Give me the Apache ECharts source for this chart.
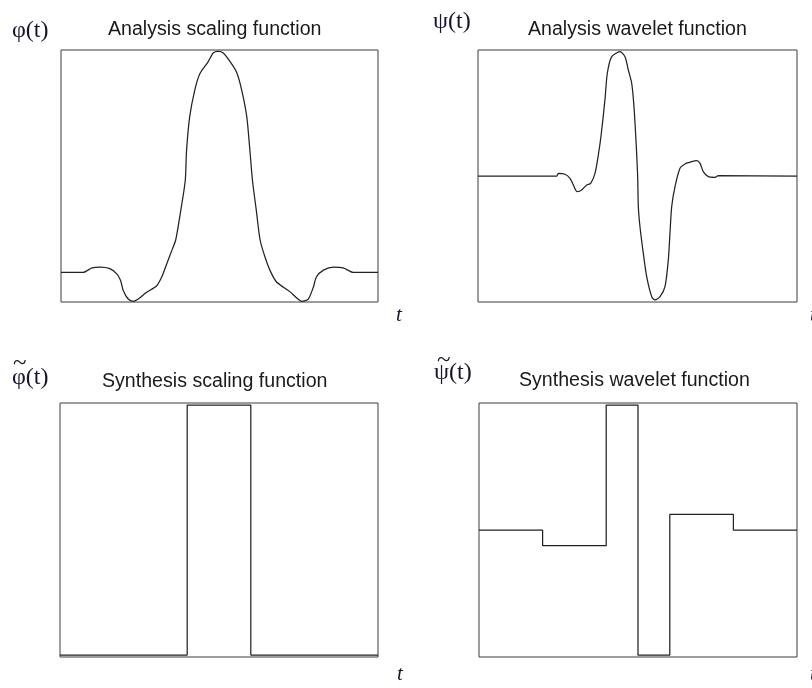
<!DOCTYPE html>
<html>
<head>
<meta charset="utf-8">
<script src="https://cdn.jsdelivr.net/npm/echarts@6/dist/echarts.min.js"></script>
<style>
html,body{margin:0;padding:0;background:#fff;}
#chart{width:812px;height:688px;}
</style>
</head>
<body>
<div id="chart"></div>
<script>
// Analysis scaling function phi(t)
const phiT = [0,0.35,0.49,0.62,0.77,0.88,0.94,0.98,1.06,1.14,1.22,1.35,1.51,1.59,1.67,1.75,1.81,1.89,1.96,1.98,2.03,2.11,2.19,2.32,2.40,2.48,2.56,2.67,2.77,2.85,2.93,2.98,3.02,3.08,3.14,3.22,3.30,3.40,3.61,3.80,3.90,3.98,4.03,4.14,4.30,4.45,4.61,5];
const phiV = [0,0,0.03,0.035,0.025,-0.01,-0.055,-0.12,-0.18,-0.195,-0.18,-0.135,-0.09,-0.03,0.06,0.15,0.22,0.42,0.62,0.82,1.05,1.23,1.34,1.42,1.48,1.49,1.48,1.42,1.35,1.23,1.05,0.82,0.62,0.42,0.22,0.10,0.01,-0.065,-0.13,-0.195,-0.18,-0.10,-0.03,0.015,0.035,0.03,0,0];
// Analysis wavelet function psi(t)
const psiT = [0,1.234,1.259,1.364,1.442,1.494,1.556,1.625,1.704,1.766,1.834,1.886,1.93,1.99,2.027,2.096,2.226,2.304,2.356,2.409,2.445,2.476,2.503,2.513,2.539,2.591,2.644,2.723,2.774,2.853,2.931,2.983,3.009,3.036,3.088,3.166,3.245,3.35,3.428,3.48,3.531,3.61,3.715,3.766,5];
const psiV = [0,0,0.036,0.023,-0.031,-0.121,-0.212,-0.189,-0.121,-0.099,0.036,0.283,0.553,1.03,1.386,1.61,1.677,1.61,1.43,1.251,0.935,0.486,-0.009,-0.414,-0.684,-1.043,-1.359,-1.629,-1.673,-1.629,-1.494,-1.134,-0.773,-0.414,-0.144,0.104,0.162,0.193,0.206,0.171,0.058,-0.009,-0.018,0.004,0];
// Synthesis scaling function (piecewise constant): level i holds on [edge i, edge i+1]
const sPhiEdges = [0,2,3,5];
const sPhiLevels = [0,1,0,0];
// Synthesis wavelet function (piecewise constant)
const sPsiEdges = [0,1,2,2.5,3,4,5];
const sPsiLevels = [0,-0.125,1,-1,0.125,0,0];

const titles = ['Analysis scaling function','Analysis wavelet function','Synthesis scaling function','Synthesis wavelet function'];

function zip(a,b){return a.map((x,i)=>[x,b[i]]);}

const chart = echarts.init(document.getElementById('chart'));
const lineStyle = {color:'#222', width:1.25};
const grids = [
  {left:61, top:50, width:317, height:252},
  {left:478, top:50, width:319, height:252},
  {left:60, top:403, width:318, height:254},
  {left:479, top:403, width:318, height:254}
].map(g=>Object.assign({show:true, borderColor:'#3c3c3c', borderWidth:1, backgroundColor:'#fff'}, g));
const yr = [[-0.2,1.5],[-1.7,1.7],[-0.008,1.008],[-1.016,1.016]];
const xAxis = grids.map((g,i)=>({type:'value', gridIndex:i, min:0, max:5, show:false}));
const yAxis = grids.map((g,i)=>({type:'value', gridIndex:i, min:yr[i][0], max:yr[i][1], show:false}));

const tStyle = {fontFamily:'Liberation Sans', fontSize:19.6, fill:'#1a1a1a'};
const gStyle = {fontFamily:'Liberation Serif', fontSize:24, fill:'#151530'};
const tilStyle = {fontFamily:'Liberation Serif', fontSize:25, fill:'#151530'};
const itStyle = {fontFamily:'Liberation Serif', fontSize:21, fontStyle:'italic', fill:'#151530'};
function txt(x,y,text,st){return {type:'text', left:x, top:y, style:Object.assign({text:text}, st)};}

chart.setOption({
  animation:false,
  grid:grids,
  xAxis:xAxis,
  yAxis:yAxis,
  series:[
    {type:'line', xAxisIndex:0, yAxisIndex:0, data:zip(phiT,phiV), showSymbol:false, smooth:0.25, lineStyle:lineStyle},
    {type:'line', xAxisIndex:1, yAxisIndex:1, data:zip(psiT,psiV), showSymbol:false, smooth:0.25, lineStyle:lineStyle},
    {type:'line', xAxisIndex:2, yAxisIndex:2, data:zip(sPhiEdges,sPhiLevels), step:'end', showSymbol:false, lineStyle:lineStyle},
    {type:'line', xAxisIndex:3, yAxisIndex:3, data:zip(sPsiEdges,sPsiLevels), step:'end', showSymbol:false, lineStyle:lineStyle}
  ],
  graphic:[
    txt(108,20,titles[0],tStyle),
    txt(528,20,titles[1],tStyle),
    txt(102,372,titles[2],tStyle),
    txt(519,371,titles[3],tStyle),
    txt(12,19,'φ(t)',gStyle),
    txt(433,10,'ψ(t)',gStyle),
    txt(12,366,'φ(t)',gStyle),
    txt(13,351,'~',tilStyle),
    txt(434,361,'ψ(t)',gStyle),
    txt(437,348,'~',tilStyle),
    txt(396,305,'t',itStyle),
    txt(397,664,'t',itStyle),
    txt(810,305,'t',itStyle),
    txt(810,664,'t',itStyle)
  ]
});
</script>
</body>
</html>
